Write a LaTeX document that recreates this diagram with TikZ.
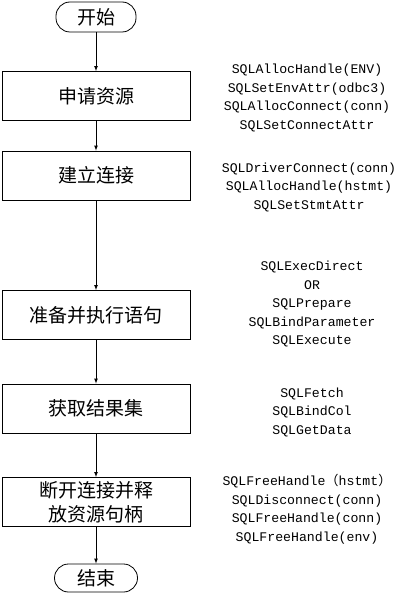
\documentclass[tikz,border=0pt]{standalone}
\usepackage{fontspec}
\setmainfont{Noto Sans CJK SC}
\newfontfamily\cjk{Noto Sans CJK SC}
\newfontfamily\codefont{Liberation Mono}
\usetikzlibrary{shapes, arrows, positioning}
\tikzstyle{stepbox} = [rectangle, draw, line width=0.8pt, minimum width=188pt, minimum height=49pt, align=center, font=\fontsize{19}{24}\selectfont]
\tikzstyle{term} = [rectangle, draw, line width=0.8pt, rounded corners=14pt, minimum width=80pt, minimum height=30pt, font=\fontsize{19}{24}\selectfont]
\tikzstyle{apicall} = [align=center, font=\codefont\fontsize{13.2}{18.5}\selectfont]

\begin{document}
\begin{tikzpicture}[x=1pt, y=1pt]
        \useasboundingbox (0, 0) rectangle (410, -599);

        % Flow
        \node[term] (start) at (96, -17) {开始};
        \node[stepbox] (alloc) at (96, -96) {申请资源};
        \node[stepbox] (connect) at (96, -175.5) {建立连接};
        \node[stepbox] (exec) at (96, -315) {准备并执行语句};
        \node[stepbox] (fetch) at (96, -408.5) {获取结果集};
        \node[stepbox] (release) at (96, -502) {断开连接并释\\放资源句柄};
        \node[term, minimum width=83pt, minimum height=28pt] (stop) at (96, -578) {结束};

        \draw[->, >=latex, line width=0.7pt] (start) -- (alloc);
        \draw[->, >=latex, line width=0.7pt] (alloc) -- (connect);
        \draw[->, >=latex, line width=0.7pt] (connect) -- (exec);
        \draw[->, >=latex, line width=0.7pt] (exec) -- (fetch);
        \draw[->, >=latex, line width=0.7pt] (fetch) -- (release);
        \draw[->, >=latex, line width=0.7pt] (release) -- (stop);

        % ODBC calls
        \node[apicall] (allocapi) at (307, -98) {SQLAllocHandle(ENV)\\SQLSetEnvAttr(odbc3)\\SQLAllocConnect(conn)\\SQLSetConnectAttr};
        \node[apicall] (connectapi) at (309, -187) {SQLDriverConnect(conn)\\SQLAllocHandle(hstmt)\\SQLSetStmtAttr};
        \node[apicall] (execapi) at (312, -304) {SQLExecDirect\\OR\\SQLPrepare\\SQLBindParameter\\SQLExecute};
        \node[apicall] (fetchapi) at (312, -412) {SQLFetch\\SQLBindCol\\SQLGetData};
        \node[apicall] (releaseapi) at (307, -509) {SQLFreeHandle{\cjk （}hstmt{\cjk ）}\\SQLDisconnect(conn)\\SQLFreeHandle(conn)\\SQLFreeHandle(env)};

    \end{tikzpicture}
\end{document}
